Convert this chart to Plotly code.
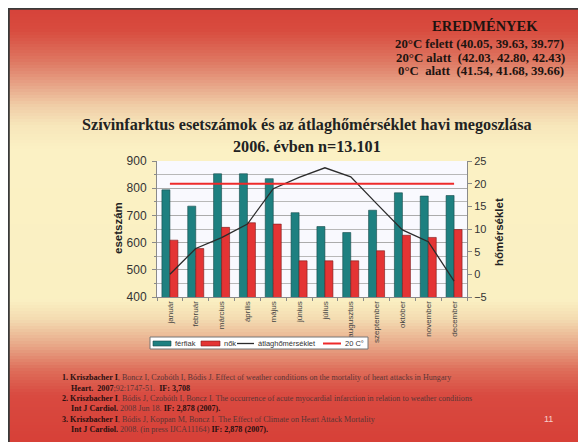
import plotly.graph_objects as go

# ---------------- data ----------------
months = ["január", "február", "március", "április", "május", "június",
          "július", "augusztus", "szeptember", "október", "november", "december"]
ferfiak = [794, 734, 853, 853, 835, 710, 659, 637, 719, 783, 771, 773]
nok = [609, 578, 656, 673, 668, 533, 533, 533, 570, 627, 619, 648]
atlaghomerseklet = [0.0, 5.7, 8.1, 11.1, 18.9, 21.4, 23.5, 21.5, 15.6, 9.8, 7.2, -1.5]
husz_fok = [20, 20, 20, 20, 20, 20, 20, 20, 20, 20, 20, 20]
left_range = [400, 900]
right_range = [-5, 25]
series_names = ["férfiak", "nők", "átlaghőmérséklet", "20 C°"]

# ---------------- layout helpers ----------------
W, H = 586, 442
OFF = 8  # the page body margin shifts the figure by 8px right and down


def px(x):
    return (x - OFF) / W


def py(y):
    return 1 - (y - OFF) / H


PLOT_L, PLOT_R, PLOT_T, PLOT_B = 157, 467, 161, 297
TEAL, RED, BLACK, LRED = "#1E8080", "#E43434", "#2B2B2B", "#EE2A2A"

# background gradient stops (pixel y -> colour)
stops = [
    (8, (214, 66, 58)),
    (30, (216, 75, 62)),
    (60, (222, 117, 96)),
    (85, (231, 164, 135)),
    (105, (240, 204, 166)),
    (125, (247, 230, 186)),
    (150, (251, 241, 196)),
    (300, (250, 240, 194)),
    (320, (243, 218, 176)),
    (345, (232, 168, 136)),
    (370, (222, 110, 90)),
    (395, (217, 74, 64)),
    (460, (214, 60, 52)),
]


def colour_at(y):
    for (y0, c0), (y1, c1) in zip(stops[:-1], stops[1:]):
        if y0 <= y <= y1:
            t = (y - y0) / (y1 - y0)
            c = [round(a + (b - a) * t) for a, b in zip(c0, c1)]
            return "rgb(%d,%d,%d)" % tuple(c)
    return "rgb(%d,%d,%d)" % stops[-1][1]


shapes = []
step = 3
y = 8
while y < H + OFF:
    shapes.append(dict(type="rect", xref="paper", yref="paper", layer="below",
                       x0=0, x1=1, y0=max(py(y + step + 1), 0), y1=min(py(y), 1),
                       fillcolor=colour_at(y + step / 2), line=dict(width=0)))
    y += step
# slide border (top and left dark edge)
shapes.append(dict(type="line", xref="paper", yref="paper", layer="below",
                   x0=px(8.8), x1=px(8.8), y0=0, y1=1, line=dict(color="#3a3a3a", width=2)))
shapes.append(dict(type="line", xref="paper", yref="paper", layer="below",
                   x0=0, x1=1, y0=py(8.8), y1=py(8.8), line=dict(color="#3a3a3a", width=2)))
# plot area background
shapes.append(dict(type="rect", xref="paper", yref="paper", layer="below",
                   x0=px(PLOT_L), x1=px(PLOT_R), y0=py(PLOT_B), y1=py(PLOT_T),
                   fillcolor="#F9F9FE", line=dict(width=0)))


def rect(x0, x1, y0, y1, fill, line_color=None, lw=0):
    shapes.append(dict(type="rect", xref="paper", yref="paper", layer="above",
                       x0=px(x0), x1=px(x1), y0=py(y1), y1=py(y0), fillcolor=fill,
                       line=dict(color=line_color or fill, width=lw)))


def hline(x0, x1, yy, color, lw):
    shapes.append(dict(type="line", xref="paper", yref="paper", layer="above",
                       x0=px(x0), x1=px(x1), y0=py(yy), y1=py(yy),
                       line=dict(color=color, width=lw)))


fig = go.Figure()
fig.add_trace(go.Bar(name=series_names[0], x=months, y=ferfiak,
                     marker=dict(color=TEAL, line=dict(color="#154848", width=0.6))))
fig.add_trace(go.Bar(name=series_names[1], x=months, y=nok,
                     marker=dict(color=RED, line=dict(color="#7a1a1a", width=0.6))))
fig.add_trace(go.Scatter(name=series_names[2], x=months, y=atlaghomerseklet, yaxis="y2",
                         mode="lines", line=dict(color=BLACK, width=1.3)))
fig.add_trace(go.Scatter(name=series_names[3], x=months, y=husz_fok, yaxis="y2",
                         mode="lines", line=dict(color=LRED, width=2)))

serif = "Liberation Serif"
annotations = []


def ann(text, x, y, size, color="#1E1410", family=serif, xanchor="center", angle=0, align="center"):
    annotations.append(dict(text=text, x=px(x), y=py(y), xref="paper", yref="paper",
                            showarrow=False, xanchor=xanchor, yanchor="middle", align=align,
                            textangle=angle, font=dict(family=family, size=size, color=color)))


# top-right results box
ann("<b>EREDMÉNYEK</b>", 485, 26, 14.5)
ann("<b>20°C felett (40.05, 39.63, 39.77)</b>", 479, 44, 12.8)
ann("<b>20°C alatt  (42.03, 42.80, 42.43)</b>", 480, 57.5, 12.8)
ann("<b>0°C  alatt  (41.54, 41.68, 39.66)</b>", 481, 71, 12.8)

# title
ann("<b>Szívinfarktus esetszámok és az átlaghőmérséklet havi megoszlása</b>", 307, 125, 16.2, color="#222222")
ann("<b>2006. évben n=13.101</b>", 307, 147, 16.2, color="#222222")

# axis titles
ann("<b>esetszám</b>", 118, 228, 11.5, color="#222222", family="Arial", angle=-90)
ann("<b>hőmérséklet</b>", 499, 232, 11.5, color="#222222", family="Arial", angle=-90)

# custom legend (compact, as in the slide)
rect(150, 368, 337, 349, "#FFFFFF", "#777777", 1)
leg_font = 7.5
rect(153, 171, 341, 346, TEAL, "#154848", 0.6)
ann(series_names[0], 173, 343, leg_font, color="#333333", family="Arial", xanchor="left", align="left")
rect(201, 220, 341, 346, RED, "#7a1a1a", 0.6)
ann(series_names[1], 222, 343, leg_font, color="#333333", family="Arial", xanchor="left", align="left")
hline(237, 254, 343.5, BLACK, 1.3)
ann(series_names[2], 256, 343, leg_font, color="#333333", family="Arial", xanchor="left", align="left")
hline(323, 341, 343.5, LRED, 2)
ann(series_names[3], 343, 343, leg_font, color="#333333", family="Arial", xanchor="left", align="left")

# references
dark = "#2A1010"
light = "#5A3535"
ref_size = 8.1


def ref(text, x, y):
    ann("<span style='color:%s'>%s</span>" % (light, text), x, y, ref_size, color=dark,
        xanchor="left", align="left")


ref("<b style='color:%s'>1. Kriszbacher I</b>, Boncz I, Czobóth I, Bódis J. Effect of weather conditions on the mortality of heart attacks in Hungary" % dark, 60, 377)
ref("<b style='color:%s'>Heart.  2007</b>;92:1747-51.  <b style='color:%s'>IF: 3,708</b>" % (dark, dark), 69, 388)
ref("<b style='color:%s'>2. Kriszbacher I</b>, Bódis J, Czobóth I, Boncz I. The occurrence of acute myocardial infarction in relation to weather conditions" % dark, 60, 398)
ref("<b style='color:%s'>Int J Cardiol.</b> 2008 Jun 18. <b style='color:%s'>IF: 2,878 (2007).</b>" % (dark, dark), 69, 408)
ref("<b style='color:%s'>3. Kriszbacher I</b>, Bódis J, Koppan M, Boncz I. The Effect of Climate on Heart Attack Mortality" % dark, 60, 419)
ref("<b style='color:%s'>Int J Cardiol.</b> 2008. (in press IJCA11164) <b style='color:%s'>IF: 2,878 (2007).</b>" % (dark, dark), 69, 429)

# page number
ann("11", 548, 419, 9, color="#F6CFCB", family="Arial")

axis_line = "#8a8a8a"
fig.update_layout(
    width=W, height=H,
    margin=dict(l=0, r=0, t=0, b=0),
    paper_bgcolor="#D6423A",
    plot_bgcolor="#F9F9FE",
    barmode="group", bargap=0.38, bargroupgap=0,
    showlegend=False,
    xaxis=dict(domain=[px(PLOT_L), px(PLOT_R)], type="category", tickangle=-90,
               tickfont=dict(family="Arial", size=8, color="#444444"),
               showline=True, linecolor=axis_line, linewidth=1, ticks="outside",
               ticklen=3, tickcolor=axis_line, tickson="boundaries",
               showgrid=False, automargin=False),
    yaxis=dict(domain=[py(PLOT_B), py(PLOT_T)], range=left_range, tick0=400, dtick=100,
               tickfont=dict(family="Arial", size=12, color="#333333"),
               showgrid=True, gridcolor="#ABABAB", gridwidth=0.8,
               minor=dict(tick0=400, dtick=50, showgrid=True, gridcolor="#B8B8B8",
                          gridwidth=0.6, ticks="outside", ticklen=2, tickcolor=axis_line),
               showline=True, linecolor=axis_line, linewidth=1, ticks="outside",
               ticklen=4, tickcolor=axis_line, zeroline=False, automargin=False,
               ticklabelstandoff=3),
    yaxis2=dict(overlaying="y", side="right", anchor="x", range=right_range, tick0=-5, dtick=5,
                tickfont=dict(family="Arial", size=11, color="#333333"),
                showgrid=False, zeroline=False, showline=True, linecolor=axis_line,
                linewidth=1, ticks="outside", ticklen=4, tickcolor=axis_line,
                automargin=False),
    shapes=shapes,
    annotations=annotations,
)

fig.write_html("out.html")
